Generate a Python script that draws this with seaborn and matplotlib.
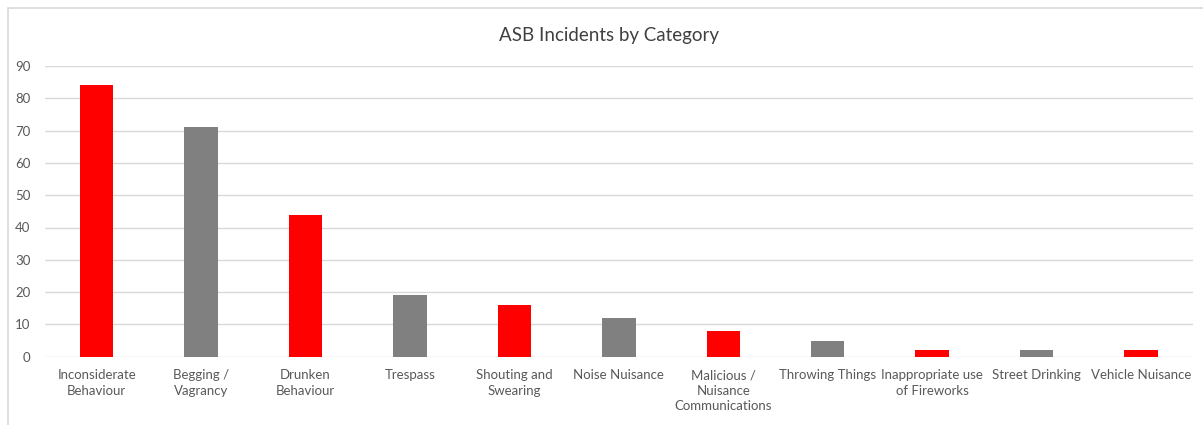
import matplotlib
matplotlib.use("Agg")
import matplotlib.pyplot as plt
import seaborn as sns
import pandas as pd
from matplotlib.patches import Rectangle

categories = ["Inconsiderate Behaviour", "Begging / Vagrancy", "Drunken Behaviour",
              "Trespass", "Shouting and Swearing", "Noise Nuisance",
              "Malicious / Nuisance Communications", "Throwing Things",
              "Inappropriate use of Fireworks", "Street Drinking", "Vehicle Nuisance"]
values = [84, 71, 44, 19, 16, 12, 8, 5, 2, 2, 2]
tick_labels = ["Inconsiderate\nBehaviour", "Begging /\nVagrancy", "Drunken\nBehaviour",
               "Trespass", "Shouting and\nSwearing", "Noise Nuisance",
               "Malicious /\nNuisance\nCommunications", "Throwing Things",
               "Inappropriate use\nof Fireworks", "Street Drinking", "Vehicle Nuisance"]
bar_colors = ["#FF0000", "#808080"] * 5 + ["#FF0000"]
y_ticks = list(range(0, 91, 10))

sns.set_theme(style="white")
plt.rcParams['font.family'] = ['Lato', 'DejaVu Sans']

df = pd.DataFrame({"category": categories, "value": values})

fig = plt.figure(figsize=(12.03, 4.25), dpi=100)
fig.patches.append(Rectangle((7.5/1203, -0.1), 1.2, (425-7.5)/425 + 0.1,
                             transform=fig.transFigure, fill=False,
                             edgecolor="#d9d9d9", linewidth=1.2))
ax = fig.add_axes([44.5/1203, 68.3/425, (1193.2-44.5)/1203, (359-68.3)/425])

sns.barplot(data=df, x="category", y="value", hue="category",
            palette=bar_colors, legend=False, width=0.32, ax=ax,
            saturation=1, edgecolor="none")

ax.set_ylim(0, 90)
ax.set_xlim(-0.5, len(categories) - 0.5)
ax.set_yticks(y_ticks)
ax.set_yticklabels([str(t) for t in y_ticks])
ax.set_xticks(range(len(categories)))
ax.set_xticklabels(tick_labels, linespacing=1.35)
ax.tick_params(axis="both", length=0, labelsize=9.5, labelcolor="#595959")
ax.tick_params(axis="x", pad=9)
ax.tick_params(axis="y", pad=10)
ax.yaxis.grid(True, color="#d9d9d9", linewidth=1)
ax.set_axisbelow(True)
for s in ax.spines.values():
    s.set_visible(False)
ax.set_xlabel("")
ax.set_ylabel("")
fig.text(609/1203, 1 - 35/425, "ASB Incidents by Category", ha="center", va="center",
         fontsize=13.5, color="#404040")

fig.savefig("out.png", dpi=100, facecolor="white")
